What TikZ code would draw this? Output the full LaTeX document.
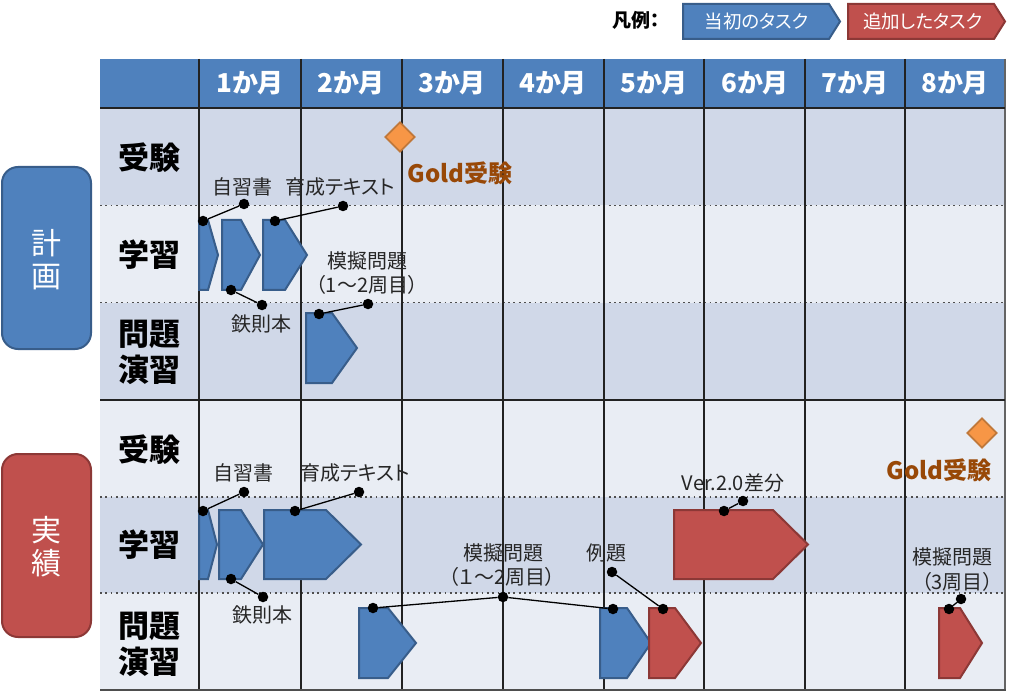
\documentclass[tikz,border=0pt]{standalone}
\usepackage{fontspec}
\usetikzlibrary{shapes.geometric}
\setmainfont[RawFeature=+palt]{Noto Sans CJK JP}
\definecolor{hdr}{HTML}{4F81BD}
\definecolor{rowdark}{HTML}{D0D8E8}
\definecolor{rowlight}{HTML}{E9EDF4}
\definecolor{bluefill}{HTML}{4F81BD}
\definecolor{blueline}{HTML}{385D8A}
\definecolor{redfill}{HTML}{C0504D}
\definecolor{redline}{HTML}{8C3836}
\definecolor{orfill}{HTML}{F79646}
\definecolor{orline}{HTML}{C0783A}
\definecolor{goldtxt}{HTML}{984807}
\definecolor{gridline}{HTML}{222222}
\newcommand\hpshape[6]{\path[#6] (#1,#4) -- (#3,#4) -- (#2,{(#4+#5)/2}) -- (#3,#5) -- (#1,#5) -- cycle;}
\newcommand\fs[1]{\fontsize{#1}{#1}\selectfont}
\begin{document}
\begin{tikzpicture}[x=1pt,y=-1pt,
  bluetask/.style={fill=bluefill,draw=blueline,line width=2pt},
  redtask/.style={fill=redfill,draw=redline,line width=2pt},
  lbl/.style={inner sep=0pt,font=\fs{20},text=black!85,align=center},
  hdrtxt/.style={inner sep=0pt,font=\fs{26}\bfseries,text=white},
  rowlbl/.style={inner sep=0pt,font=\fs{31}\bfseries,text=black},
  seclbl/.style={inner sep=0pt,font=\fs{30},text=white},
  goldlbl/.style={inner sep=0pt,font=\fs{24}\bfseries,text=goldtxt},
  dot/.style={circle,fill=black,inner sep=0pt,minimum size=10.5pt},
  conn/.style={draw=black,line width=1.3pt},
  vline/.style={draw=gridline,line width=1.4pt},
  dotline/.style={draw=gridline!80,line width=1.8pt,dash pattern=on 1.8pt off 3.5pt},
  diam/.style={diamond,fill=orfill,draw=orline,line width=1.8pt,inner sep=0pt,minimum size=30pt}
]
\useasboundingbox (0,0) rectangle (1024,700);
\fill[white] (0,0) rectangle (1024,700);
% ---- rows
\fill[hdr] (100,59) rectangle (1005,108);
\fill[rowdark]  (100,108) rectangle (1005,205.5);
\fill[rowlight] (100,205.5) rectangle (1005,302.5);
\fill[rowdark]  (100,302.5) rectangle (1005,400);
\fill[rowlight] (100,400) rectangle (1005,497);
\fill[rowdark]  (100,497) rectangle (1005,593);
\fill[rowlight] (100,593) rectangle (1005,690);
% ---- dotted separators
\foreach \yy in {205.5,302.5,497,593}{\draw[dotline] (100,\yy) -- (1005,\yy);}
% ---- solid lines
\foreach \xx in {199,301,402,503,604,704,805,905}{\draw[vline] (\xx,59) -- (\xx,690);}
\draw[draw=gridline!70,line width=1.6pt] (1005,59) -- (1005,690);
\draw[vline] (100,108) -- (1005,108);
\draw[vline] (100,400) -- (1005,400);
\draw[draw=gridline!80,line width=1.8pt] (100,690) -- (1006,690);
% ---- header texts
\node[hdrtxt] (m1) at (250,83) {1か月};
\node[hdrtxt] (m2) at (351,83) {2か月};
\node[hdrtxt] (m3) at (452,83) {3か月};
\node[hdrtxt] (m4) at (553,83) {4か月};
\node[hdrtxt] (m5) at (654,83) {5か月};
\node[hdrtxt] (m6) at (755,83) {6か月};
\node[hdrtxt] (m7) at (855,83) {7か月};
\node[hdrtxt] (m8) at (955,83) {8か月};
% ---- row labels
\node[rowlbl] (r1) at (149,158) {受験};
\node[rowlbl] (r2) at (149,255) {学習};
\node[rowlbl] (r3a) at (149,334) {問題};
\node[rowlbl] (r3b) at (149,370) {演習};
\node[rowlbl] (r4) at (149,450) {受験};
\node[rowlbl] (r5) at (149,545) {学習};
\node[rowlbl] (r6a) at (149,626) {問題};
\node[rowlbl] (r6b) at (149,662) {演習};
% ---- section labels
\path[fill=bluefill,draw=blueline,line width=2pt,rounded corners=16pt] (2,167) rectangle (91,349);
\node[seclbl] (s1a) at (46,243) {計};
\node[seclbl] (s1b) at (46,277) {画};
\path[fill=redfill,draw=redline,line width=2pt,rounded corners=16pt] (2,454) rectangle (91,637);
\node[seclbl] (s2a) at (46,530) {実};
\node[seclbl] (s2b) at (46,563) {績};
% ---- legend
\node[inner sep=0pt,font=\fs{19}\bfseries] (lgt) at (636,20) {凡例：};
\hpshape{683}{840}{829}{4}{39}{bluetask}
\hpshape{848}{1005}{994}{4}{39}{redtask}
\node[inner sep=0pt,font=\fs{18.5},text=white] (lg1) at (757,21) {当初のタスク};
\node[inner sep=0pt,font=\fs{18.5},text=white] (lg2) at (923,21) {追加したタスク};
% ---- plan tasks
\hpshape{199}{218}{208}{220}{290}{bluetask}
\hpshape{222}{260}{241}{220}{290}{bluetask}
\hpshape{263}{307}{285}{220}{290}{bluetask}
\hpshape{306}{357}{332}{313}{383}{bluetask}
% ---- actual tasks
\hpshape{199}{217}{208}{510}{579}{bluetask}
\hpshape{219}{263}{241}{510}{579}{bluetask}
\hpshape{264}{361}{326}{510}{579}{bluetask}
\hpshape{674}{808}{773}{510}{579}{redtask}
\hpshape{359}{416}{388}{608}{678}{bluetask}
\hpshape{600}{651}{627}{608}{678}{bluetask}
\hpshape{649}{701}{675}{608}{678}{redtask}
\hpshape{939}{982}{960}{608}{678}{redtask}
% ---- milestones
\node[diam] (g1) at (400,137) {};
\node[goldlbl] (g1t) at (460,173) {Gold受験};
\node[diam] (g2) at (982,433) {};
\node[goldlbl] (g2t) at (939,470) {Gold受験};
% ---- labels
\node[lbl] (t1) at (242,187) {自習書};
\node[lbl] (t2) at (340,187) {育成テキスト};
\node[lbl] (t3) at (261,324) {鉄則本};
\node[lbl] (t4) at (367,261) {模擬問題};
\node[lbl] (t4b) at (367,285) {（1～2周目）};
\node[lbl] (u1) at (243,473) {自習書};
\node[lbl] (u2) at (355,473) {育成テキスト};
\node[lbl] (u3) at (262,615) {鉄則本};
\node[lbl] (u4) at (503,553) {模擬問題};
\node[lbl] (u4b) at (502,577) {（１～2周目）};
\node[lbl] (u5) at (606,553) {例題};
\node[lbl] (u6) at (733,483) {Ver.2.0差分};
\node[lbl,anchor=east] (u7) at (993,557) {模擬問題};
\node[lbl,anchor=east] (u7b) at (993,582) {（3周目）};
% ---- dots
\node[dot] (p1) at (203,221) {};  \node[dot] (p1e) at (244,204) {};
\node[dot] (p2) at (275,221) {};  \node[dot] (p2e) at (343,206) {};
\node[dot] (p3) at (231,290) {};  \node[dot] (p3e) at (262,305) {};
\node[dot] (p4) at (319,314) {};  \node[dot] (p4e) at (368,304) {};
\node[dot] (a1) at (203,511) {};  \node[dot] (a1e) at (244,492) {};
\node[dot] (a2) at (295,511) {};  \node[dot] (a2e) at (359,492) {};
\node[dot] (a3) at (231,579) {};  \node[dot] (a3e) at (263,597) {};
\node[dot] (a4) at (373,608) {};  \node[dot] (a4m) at (503,597) {};  \node[dot] (a4r) at (613,609) {};
\node[dot] (a5) at (612,572) {};  \node[dot] (a5e) at (663,609) {};
\node[dot] (a6) at (724,511) {};  \node[dot] (a6e) at (743,501) {};
\node[dot] (a7) at (949,609) {};  \node[dot] (a7e) at (961,599) {};
% ---- connectors
\draw[conn] (p1) -- (p1e);
\draw[conn] (p2) -- (p2e);
\draw[conn] (p3) -- (p3e);
\draw[conn] (p4) -- (p4e);
\draw[conn] (a1) -- (a1e);
\draw[conn] (a2) -- (a2e);
\draw[conn] (a3) -- (a3e);
\draw[conn] (a4) -- (a4m) -- (a4r);
\draw[conn] (a5) -- (a5e);
\draw[conn] (a6) -- (a6e);
\draw[conn] (a7) -- (a7e);
\end{tikzpicture}
\end{document}
